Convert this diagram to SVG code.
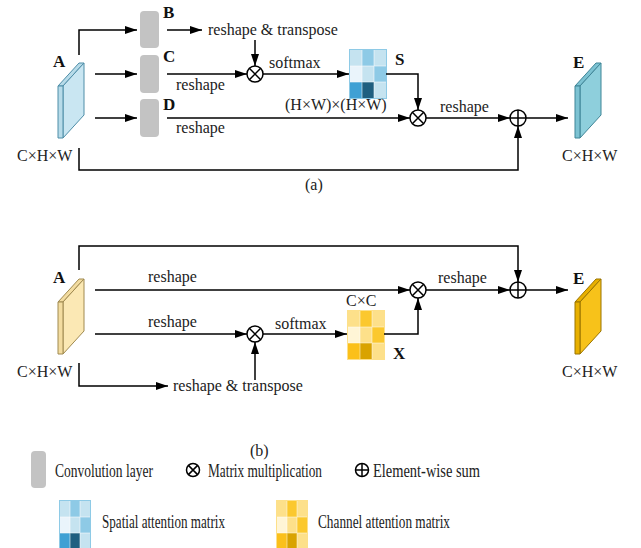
<svg xmlns="http://www.w3.org/2000/svg" width="641" height="548" viewBox="0 0 641 548">
<defs>
<marker id="ah" viewBox="0 0 12 8" refX="12" refY="4" markerWidth="12" markerHeight="8" markerUnits="userSpaceOnUse" orient="auto">
<path d="M0,0 L12,4 L0,8 Z" fill="#000"/>
</marker>
<style>
text{font-family:"Liberation Serif","Times New Roman",serif;fill:#222;}
.t{font-size:16px;}
.b{font-size:17px;font-weight:bold;fill:#111;}
.lg{font-size:19.5px;}
.ln{fill:none;stroke:#000;stroke-width:1.5;}
.ar{fill:none;stroke:#000;stroke-width:1.5;marker-end:url(#ah);}
.op{fill:#fff;stroke:#000;stroke-width:1.5;}
.conv{fill:#c3c3c3;}
.edge{stroke-width:1;stroke-linejoin:round;}
</style>
</defs>

<!-- ===== (a) ===== -->
<g id="A1">
<polygon class="edge" points="58,86 63,86 84,63 79,63" fill="#b7dbe9" stroke="#4f8ea8"/>
<polygon class="edge" points="63,86 84,63 84,115 63,138" fill="#c9e6f2" stroke="#4f8ea8"/>
<rect class="edge" x="58" y="86" width="5" height="52" fill="#b7dbe9" stroke="#4f8ea8"/>
<text class="b" x="53" y="67">A</text>
<text class="t" x="17" y="161">C×H×W</text>
</g>
<g id="B"><rect class="conv" x="140" y="11" width="19" height="37" rx="4"/><text class="b" x="163" y="18">B</text></g>
<g id="C"><rect class="conv" x="140" y="55" width="19" height="38" rx="4"/><text class="b" x="163" y="62">C</text></g>
<g id="D"><rect class="conv" x="140" y="99" width="19" height="38" rx="4"/><text class="b" x="163" y="110">D</text></g>
<g id="mul1a"><circle class="op" cx="255" cy="74" r="8"/><path class="ln" d="M249.3,68.3 L260.7,79.7 M260.7,68.3 L249.3,79.7"/></g>
<g id="S">
<rect x="349.5" y="49.5" width="37" height="49" fill="#fff" stroke="#8ecae6" stroke-width="1"/>
<rect x="350" y="50" width="12" height="16" fill="#c5e3f0"/>
<rect x="362" y="50" width="12" height="16" fill="#8ecae6"/>
<rect x="374" y="50" width="12" height="16" fill="#c5e3f0"/>
<rect x="350" y="66" width="12" height="16" fill="#eaf4fb"/>
<rect x="362" y="66" width="12" height="16" fill="#c5e3f0"/>
<rect x="374" y="66" width="12" height="16" fill="#8ecae6"/>
<rect x="350" y="82" width="12" height="16" fill="#3fa0d4"/>
<rect x="362" y="82" width="12" height="16" fill="#1f5f80"/>
<rect x="374" y="82" width="12" height="16" fill="#c5e3f0"/>
<path d="M362,50 V98 M374,50 V98 M350,66 H386 M350,82 H386" stroke="#ffffff" stroke-width="0.8" opacity="0.7"/>
<text class="b" x="395" y="65">S</text>
</g>
<g id="mul2a"><circle class="op" cx="418" cy="118" r="8"/><path class="ln" d="M412.3,112.3 L423.7,123.7 M423.7,112.3 L412.3,123.7"/></g>
<g id="suma"><circle class="op" cx="518" cy="118" r="8"/><path class="ln" d="M510,118 H526 M518,110 V126"/></g>
<g id="E1">
<polygon class="edge" points="575,86 580,86 601,63 596,63" fill="#7cc2d2" stroke="#3f8597"/>
<polygon class="edge" points="580,86 601,63 601,115 580,138" fill="#8ecfdc" stroke="#3f8597"/>
<rect class="edge" x="575" y="86" width="5" height="52" fill="#7cc2d2" stroke="#3f8597"/>
<text class="b" x="573" y="68">E</text>
<text class="t" x="562" y="161">C×H×W</text>
</g>

<g id="connectors-a">
<path class="ar" d="M79,55 V30 H137"/>
<path class="ar" d="M95,74 H137"/>
<path class="ar" d="M95,118 H137"/>
<path class="ar" d="M167,30 H202"/>
<path class="ar" d="M255,40 V66"/>
<path class="ar" d="M167,74 H247"/>
<path class="ar" d="M263,74 H349"/>
<path class="ar" d="M386,74 H418 V110"/>
<path class="ar" d="M167,118 H410"/>
<path class="ar" d="M426,118 H510"/>
<path class="ar" d="M526,118 H568"/>
<path class="ar" d="M79,148 V170 H518 V126"/>
</g>
<g id="labels-a">
<text class="t" x="208" y="35">reshape &amp; transpose</text>
<text class="t" x="176" y="90">reshape</text>
<text class="t" x="269" y="68">softmax</text>
<text class="t" x="285" y="110">(H×W)×(H×W)</text>
<text class="t" x="176" y="133">reshape</text>
<text class="t" x="440" y="112">reshape</text>
<text class="t" x="305" y="190">(a)</text>
</g>

<!-- ===== (b) ===== -->
<g id="A2">
<polygon class="edge" points="58,302 63,302 84,279 79,279" fill="#f3dca0" stroke="#a08a50"/>
<polygon class="edge" points="63,302 84,279 84,331 63,354" fill="#fbe8b4" stroke="#a08a50"/>
<rect class="edge" x="58" y="302" width="5" height="52" fill="#f3dca0" stroke="#a08a50"/>
<text class="b" x="53" y="283">A</text>
<text class="t" x="17" y="377">C×H×W</text>
</g>
<g id="mul1b"><circle class="op" cx="255" cy="334" r="8"/><path class="ln" d="M249.3,328.3 L260.7,339.7 M260.7,328.3 L249.3,339.7"/></g>
<g id="X">
<rect x="347.5" y="310.5" width="37" height="49" fill="#fff" stroke="#fde08a" stroke-width="1"/>
<rect x="348" y="311" width="12" height="16" fill="#fde08a"/>
<rect x="360" y="311" width="12" height="16" fill="#fbc82e"/>
<rect x="372" y="311" width="12" height="16" fill="#fde08a"/>
<rect x="348" y="327" width="12" height="16" fill="#fff5d6"/>
<rect x="360" y="327" width="12" height="16" fill="#fde08a"/>
<rect x="372" y="327" width="12" height="16" fill="#fbc82e"/>
<rect x="348" y="343" width="12" height="16" fill="#fbc01a"/>
<rect x="360" y="343" width="12" height="16" fill="#d9a300"/>
<rect x="372" y="343" width="12" height="16" fill="#fde08a"/>
<path d="M360,311 V359 M372,311 V359 M348,327 H384 M348,343 H384" stroke="#ffffff" stroke-width="0.8" opacity="0.6"/>
<text class="t" x="346" y="306">C×C</text>
<text class="b" x="393" y="359">X</text>
</g>
<g id="mul2b"><circle class="op" cx="418" cy="290" r="8"/><path class="ln" d="M412.3,284.3 L423.7,295.7 M423.7,284.3 L412.3,295.7"/></g>
<g id="sumb"><circle class="op" cx="518" cy="290" r="8"/><path class="ln" d="M510,290 H526 M518,282 V298"/></g>
<g id="E2">
<polygon class="edge" points="575,302 580,302 601,279 596,279" fill="#e8b000" stroke="#9a7400"/>
<polygon class="edge" points="580,302 601,279 601,331 580,354" fill="#f7c21a" stroke="#9a7400"/>
<rect class="edge" x="575" y="302" width="5" height="52" fill="#e8b000" stroke="#9a7400"/>
<text class="b" x="573" y="284">E</text>
<text class="t" x="562" y="377">C×H×W</text>
</g>

<g id="connectors-b">
<path class="ar" d="M79,270 V246 H518 V282"/>
<path class="ar" d="M95,290 H410"/>
<path class="ar" d="M95,334 H247"/>
<path class="ar" d="M255,380 V342"/>
<path class="ar" d="M79,363 V386 H168"/>
<path class="ar" d="M263,334 H347"/>
<path class="ar" d="M384,334 H418 V298"/>
<path class="ar" d="M426,290 H510"/>
<path class="ar" d="M526,290 H568"/>
</g>
<g id="labels-b">
<text class="t" x="148" y="282">reshape</text>
<text class="t" x="148" y="327">reshape</text>
<text class="t" x="275" y="329">softmax</text>
<text class="t" x="438" y="283">reshape</text>
<text class="t" x="173" y="391">reshape &amp; transpose</text>
<text class="t" x="250" y="456">(b)</text>
</g>

<!-- ===== legend ===== -->
<g id="legend">
<rect class="conv" x="31" y="451" width="15" height="37" rx="4"/>
<text class="lg" x="55" y="477" textLength="98" lengthAdjust="spacingAndGlyphs">Convolution layer</text>
<circle class="op" cx="193" cy="470" r="6.5"/><path class="ln" d="M188.4,465.4 L197.6,474.6 M197.6,465.4 L188.4,474.6"/>
<text class="lg" x="208" y="477" textLength="114" lengthAdjust="spacingAndGlyphs">Matrix multiplication</text>
<circle class="op" cx="362" cy="470" r="6.5"/><path class="ln" d="M355.5,470 H368.5 M362,463.5 V476.5"/>
<text class="lg" x="373" y="477" textLength="107" lengthAdjust="spacingAndGlyphs">Element-wise sum</text>

<g id="legend-spatial">
<rect x="60" y="501" width="10" height="16" fill="#c5e3f0"/>
<rect x="70" y="501" width="10" height="16" fill="#8ecae6"/>
<rect x="80" y="501" width="10" height="16" fill="#c5e3f0"/>
<rect x="60" y="517" width="10" height="16" fill="#eaf4fb"/>
<rect x="70" y="517" width="10" height="16" fill="#c5e3f0"/>
<rect x="80" y="517" width="10" height="16" fill="#8ecae6"/>
<rect x="60" y="533" width="10" height="16" fill="#3fa0d4"/>
<rect x="70" y="533" width="10" height="16" fill="#1f5f80"/>
<rect x="80" y="533" width="10" height="16" fill="#c5e3f0"/>
<path d="M70,501 V549 M80,501 V549 M60,517 H90 M60,533 H90" stroke="#fff" stroke-width="0.8" opacity="0.7"/>
<rect x="59.5" y="500.5" width="31" height="49" fill="none" stroke="#8ecae6" stroke-width="1"/>
</g>
<text class="lg" x="102" y="528" textLength="123" lengthAdjust="spacingAndGlyphs">Spatial attention matrix</text>

<g id="legend-channel">
<rect x="277" y="501" width="10" height="16" fill="#fde08a"/>
<rect x="287" y="501" width="10" height="16" fill="#fbc82e"/>
<rect x="297" y="501" width="10" height="16" fill="#fde08a"/>
<rect x="277" y="517" width="10" height="16" fill="#fff5d6"/>
<rect x="287" y="517" width="10" height="16" fill="#fde08a"/>
<rect x="297" y="517" width="10" height="16" fill="#fbc82e"/>
<rect x="277" y="533" width="10" height="16" fill="#fbc01a"/>
<rect x="287" y="533" width="10" height="16" fill="#d9a300"/>
<rect x="297" y="533" width="10" height="16" fill="#fde08a"/>
<path d="M287,501 V549 M297,501 V549 M277,517 H307 M277,533 H307" stroke="#fff" stroke-width="0.8" opacity="0.6"/>
<rect x="276.5" y="500.5" width="31" height="49" fill="none" stroke="#fde08a" stroke-width="1"/>
</g>
<text class="lg" x="318" y="528" textLength="132" lengthAdjust="spacingAndGlyphs">Channel attention matrix</text>
</g>
</svg>
